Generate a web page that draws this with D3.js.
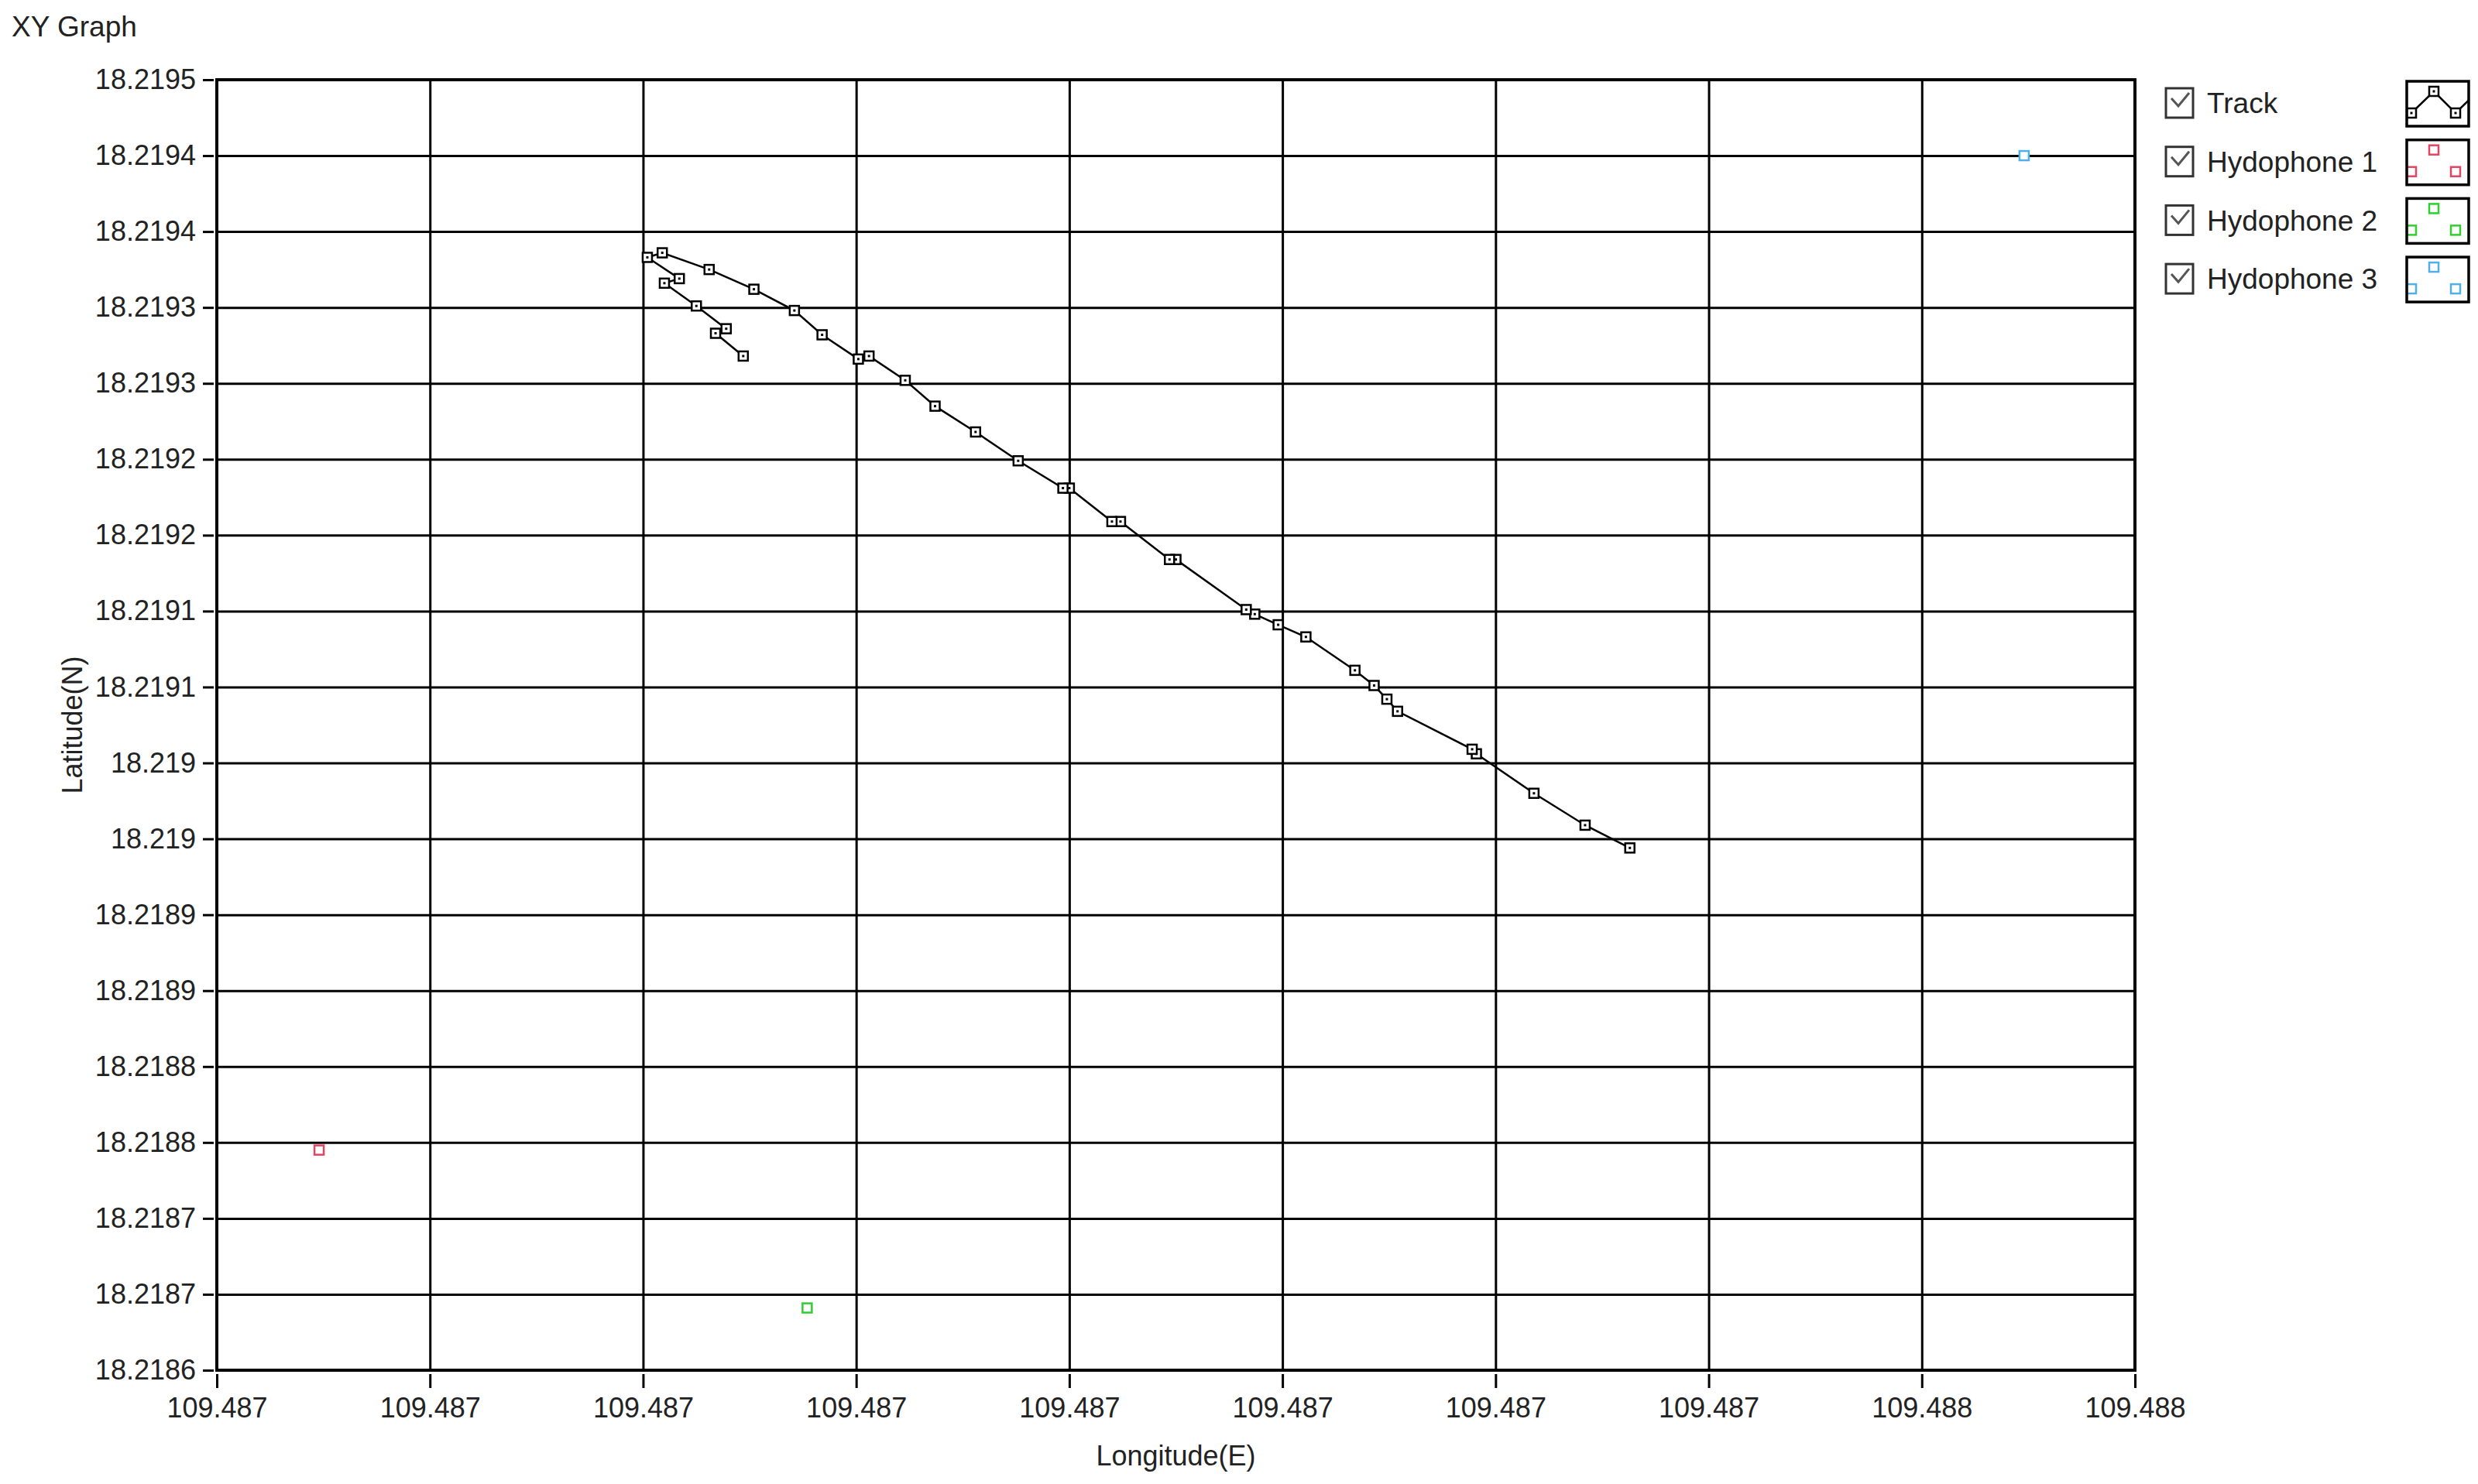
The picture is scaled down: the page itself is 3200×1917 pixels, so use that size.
<!DOCTYPE html>
<html>
<head>
<meta charset="utf-8">
<title>XY Graph</title>
<script src="https://cdn.jsdelivr.net/npm/d3@7"></script>
<style>
    html, body { margin: 0; padding: 0; background: #fff; }
    svg { display: block; font-family: "Liberation Sans", Arial, sans-serif; }
    .grid line { stroke: #000; stroke-width: 3; }
    .grid path { display: none; }
    .axis path { display: none; }
    .axis line { stroke: #000; stroke-width: 3; }
    .axis text { fill: #222; font-size: 36px; }
</style>
</head>
<body>
<svg id="chart" width="3200" height="1917"></svg>
<script>
"use strict";

// axis ticks as LabVIEW shows them (3-4 decimals only)
var xTicks = [109.4867, 109.4868, 109.4869, 109.4870, 109.4871, 109.4872, 109.4873, 109.4874, 109.4875, 109.4876];
var xTickLabels = ["109.487", "109.487", "109.487", "109.487", "109.487", "109.487", "109.487", "109.487", "109.488", "109.488"];
var yTicks = [18.2195, 18.21945, 18.2194, 18.21935, 18.2193, 18.21925, 18.2192, 18.21915, 18.2191,
    18.21905, 18.219, 18.21895, 18.2189, 18.21885, 18.2188, 18.21875, 18.2187, 18.21865];
var yTickLabels = ["18.2195", "18.2194", "18.2194", "18.2193", "18.2193", "18.2192", "18.2192", "18.2191", "18.2191",
    "18.219", "18.219", "18.2189", "18.2189", "18.2188", "18.2188", "18.2187", "18.2187", "18.2186"];

// track
var trackLon = [109.487363, 109.487342, 109.487318, 109.487291, 109.487289, 109.487254, 109.487249, 109.487243,
    109.487234, 109.487211, 109.487198, 109.487187, 109.487183, 109.487150, 109.487147, 109.487124, 109.487120,
    109.487100, 109.487097, 109.487076, 109.487056, 109.487037, 109.487023, 109.487006, 109.487001, 109.486984,
    109.486971, 109.486952, 109.486931, 109.486909, 109.486902, 109.486917, 109.486910, 109.486925, 109.486939,
    109.486934, 109.486947];
var trackLat = [18.218994, 18.219009, 18.219030, 18.219056, 18.219059, 18.219084, 18.219092, 18.219101,
    18.219111, 18.219133, 18.219141, 18.219148, 18.219151, 18.219184, 18.219184, 18.219209, 18.219209,
    18.219231, 18.219231, 18.219249, 18.219268, 18.219285, 18.219302, 18.219318, 18.219316, 18.219332,
    18.219348, 18.219362, 18.219375, 18.219386, 18.219383, 18.219369, 18.219366, 18.219351, 18.219336,
    18.219333, 18.219318];

var hydrophoneNames = ["Hydophone 1", "Hydophone 2", "Hydophone 3"];
var hydrophoneLon = [109.486748, 109.486977, 109.487548];
var hydrophoneLat = [18.218795, 18.218691, 18.219450];

var hydrophoneColors = ["#e2455f", "#2fcf2f", "#4fb0e8"];

var margin = { left: 280, top: 103, right: 443, bottom: 147 };
var svg = d3.select("#chart");
var svgWidth = Number(svg.attr("width"));
var svgHeight = Number(svg.attr("height"));
var width = svgWidth - margin.left - margin.right;
var height = svgHeight - margin.top - margin.bottom;

var x = d3.scaleLinear().domain([xTicks[0], xTicks[xTicks.length - 1]]).range([0, width]);
var y = d3.scaleLinear().domain([yTicks[yTicks.length - 1], yTicks[0]]).range([height, 0]);

svg.append("text")
    .attr("x", 15).attr("y", 47)
    .style("font-size", "37px").style("fill", "#222")
    .text("XY Graph");

var g = svg.append("g").attr("transform", "translate(" + margin.left + "," + margin.top + ")");

// grid
g.append("g").attr("class", "grid")
    .call(d3.axisLeft(y).tickValues(yTicks).tickSize(-width).tickFormat(""));
g.append("g").attr("class", "grid")
    .attr("transform", "translate(0," + height + ")")
    .call(d3.axisBottom(x).tickValues(xTicks).tickSize(height).tickSizeOuter(0).tickFormat(""))
    .selectAll("line").attr("y2", -height);

// labelled axes, ticks outside the frame
g.append("g").attr("class", "axis")
    .attr("transform", "translate(-4,0)")
    .call(d3.axisLeft(y).tickValues(yTicks).tickSize(14).tickPadding(9)
        .tickFormat(function (d, i) { return yTickLabels[i]; }));
g.append("g").attr("class", "axis")
    .attr("transform", "translate(0," + (height + 5) + ")")
    .call(d3.axisBottom(x).tickValues(xTicks).tickSize(18).tickPadding(12)
        .tickFormat(function (d, i) { return xTickLabels[i]; }));

g.append("rect")
    .attr("width", width).attr("height", height)
    .attr("fill", "none").attr("stroke", "#000").attr("stroke-width", 4);

svg.append("text")
    .attr("x", margin.left + width / 2).attr("y", 1893)
    .attr("text-anchor", "middle")
    .style("font-size", "36px").style("fill", "#222")
    .text("Longitude(E)");
svg.append("text")
    .attr("transform", "translate(106," + (margin.top + height / 2) + ") rotate(-90)")
    .attr("text-anchor", "middle")
    .style("font-size", "36px").style("fill", "#222")
    .text("Latitude(N)");

// track
var track = trackLon.map(function (d, i) { return [d, trackLat[i]]; });
var line = d3.line()
    .x(function (d) { return x(d[0]); })
    .y(function (d) { return y(d[1]); });
g.append("path").datum(track)
    .attr("d", line)
    .attr("fill", "none").attr("stroke", "#000").attr("stroke-width", 2.5);

function drawMarkers(sel, color, dot) {
    sel.append("rect")
        .attr("x", -6).attr("y", -6).attr("width", 12).attr("height", 12)
        .attr("fill", "#fff").attr("stroke", color).attr("stroke-width", 2.5);
    if (dot) {
        sel.append("rect")
            .attr("x", -1.5).attr("y", -1.5).attr("width", 3).attr("height", 3)
            .attr("fill", color);
    }
}

g.selectAll("g.track-pt").data(track).enter().append("g")
    .attr("class", "track-pt")
    .attr("transform", function (d) { return "translate(" + x(d[0]) + "," + y(d[1]) + ")"; })
    .call(drawMarkers, "#000", true);

for (var i = 0; i < hydrophoneNames.length; i++) {
    g.append("g")
        .attr("transform", "translate(" + x(hydrophoneLon[i]) + "," + y(hydrophoneLat[i]) + ")")
        .call(drawMarkers, hydrophoneColors[i], false);
}

// legend
var legendNames = ["Track"].concat(hydrophoneNames);
var legendColors = ["#000"].concat(hydrophoneColors);
var legend = svg.append("g").attr("transform", "translate(2797,133)");
for (var i = 0; i < legendNames.length; i++) {
    var row = legend.append("g").attr("transform", "translate(0," + (i * 75.7) + ")");
    row.append("rect")
        .attr("x", 0).attr("y", -19).attr("width", 35).attr("height", 38)
        .attr("fill", "#fff").attr("stroke", "#333").attr("stroke-width", 3);
    row.append("polyline")
        .attr("points", "7,-6 16,4 30,-13")
        .attr("fill", "none").attr("stroke", "#555").attr("stroke-width", 3);
    row.append("text")
        .attr("x", 53).attr("y", 0).attr("dy", "0.36em")
        .style("font-size", "37px").style("fill", "#222")
        .text(legendNames[i]);

    var sw = row.append("g").attr("transform", "translate(311,-28)");
    sw.append("clipPath").attr("id", "sw-clip-" + i)
        .append("rect").attr("width", 80).attr("height", 58);
    var inner = sw.append("g").attr("clip-path", "url(#sw-clip-" + i + ")");
    var pts = [[6, 41], [35, 13], [63, 41]];
    if (i === 0) {
        inner.append("polyline")
            .attr("points", "-22,13 6,41 35,13 63,41 92,13")
            .attr("fill", "none").attr("stroke", "#000").attr("stroke-width", 2.5);
    }
    inner.selectAll("g").data(pts).enter().append("g")
        .attr("transform", function (d) { return "translate(" + d[0] + "," + d[1] + ")"; })
        .call(drawMarkers, legendColors[i], i === 0);
    sw.append("rect")
        .attr("width", 80).attr("height", 58)
        .attr("fill", "none").attr("stroke", "#000").attr("stroke-width", 3.5);
}
</script>
</body>
</html>
